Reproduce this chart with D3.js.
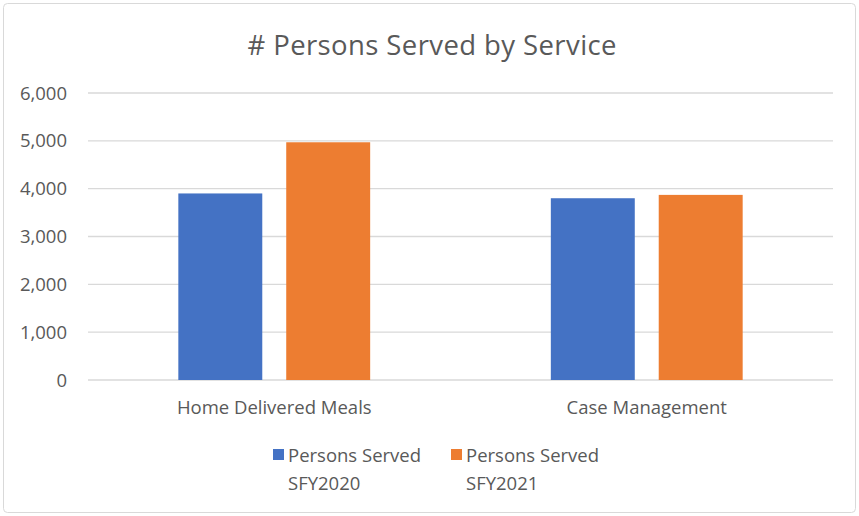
<!DOCTYPE html>
<head>
    <script src="https://d3js.org/d3.v7.min.js"></script>
</head>
<style>
    html, body {
        margin: 0;
        background-color: #fff;
    }
    * {
        font-family: "Open Sans", sans-serif;
    }
    .grid line {
        stroke: #d9d9d9;
        stroke-width: 1.3px;
    }
    .label {
        fill: #595959;
    }
</style>
<body>
<svg width="859" height="516"></svg>
<script>

var categories = ["Home Delivered Meals", "Case Management"],
    seriesNames = ["Persons Served SFY2020", "Persons Served SFY2021"],
    sfy2020 = [3900, 3800],
    sfy2021 = [4970, 3870],
    yTicks = [0, 1000, 2000, 3000, 4000, 5000, 6000],
    colors = ["#4472c4", "#ed7d31"];

var svg = d3.select("svg");

// chart frame
svg.append("rect")
    .attr("x", 3.5).attr("y", 3.5)
    .attr("width", 852).attr("height", 509)
    .attr("rx", 4)
    .attr("fill", "#fff")
    .attr("stroke", "#d9d9d9");

svg.append("text")
    .attr("class", "label")
    .attr("x", 432).attr("y", 55)
    .attr("text-anchor", "middle")
    .style("font-size", "27.5px")
    .attr("textLength", 369)
    .text("# Persons Served by Service");

var y = d3.scaleLinear().domain([0, 6000]).range([380, 93]);

var x0 = d3.scaleBand()
    .domain(categories)
    .range([88, 833])
    .paddingInner(0.485)
    .paddingOuter(0.2425);

var x1 = d3.scaleBand()
    .domain([0, 1])
    .range([0, x0.bandwidth()])
    .paddingInner(0.222);

// gridlines
svg.append("g")
    .attr("class", "grid")
    .selectAll("line")
    .data(yTicks)
    .enter().append("line")
    .attr("x1", 88).attr("x2", 833)
    .attr("y1", function(d) { return y(d); })
    .attr("y2", function(d) { return y(d); });

// y labels
svg.append("g")
    .selectAll("text")
    .data(yTicks)
    .enter().append("text")
    .attr("class", "label")
    .attr("x", 67)
    .attr("y", function(d) { return y(d) + 6.5; })
    .attr("text-anchor", "end")
    .style("font-size", "18.5px")
    .text(function(d) { return d3.format(",")(d); });

// bars
var rows = categories.map(function(c, i) { return {cat: c, vals: [sfy2020[i], sfy2021[i]]}; });

var group = svg.append("g").selectAll("g")
    .data(rows)
    .enter().append("g")
    .attr("transform", function(d) { return "translate(" + x0(d.cat) + ",0)"; });

group.selectAll("rect")
    .data(function(d) { return d.vals; })
    .enter().append("rect")
    .attr("x", function(d, i) { return x1(i); })
    .attr("y", function(d) { return y(d); })
    .attr("width", x1.bandwidth())
    .attr("height", function(d) { return y(0) - y(d); })
    .attr("fill", function(d, i) { return colors[i]; });

// x labels
svg.append("g")
    .selectAll("text")
    .data(categories)
    .enter().append("text")
    .attr("class", "label")
    .attr("x", function(d) { return x0(d) + x0.bandwidth() / 2; })
    .attr("y", 414)
    .attr("text-anchor", "middle")
    .style("font-size", "18.5px")
    .text(function(d) { return d; });

// legend
var legendX = [273, 451];
var legend = svg.append("g").selectAll("g")
    .data(seriesNames)
    .enter().append("g")
    .attr("transform", function(d, i) { return "translate(" + legendX[i] + ",0)"; });

legend.append("rect")
    .attr("x", 0).attr("y", 449)
    .attr("width", 11).attr("height", 11)
    .attr("fill", function(d, i) { return colors[i]; });

legend.append("text")
    .attr("class", "label")
    .attr("x", 15).attr("y", 462)
    .style("font-size", "18.5px")
    .text("Persons Served");

legend.append("text")
    .attr("class", "label")
    .attr("x", 15).attr("y", 490)
    .style("font-size", "18.5px")
    .text(function(d) { return d.split(" ")[2]; });

</script>
</body>
